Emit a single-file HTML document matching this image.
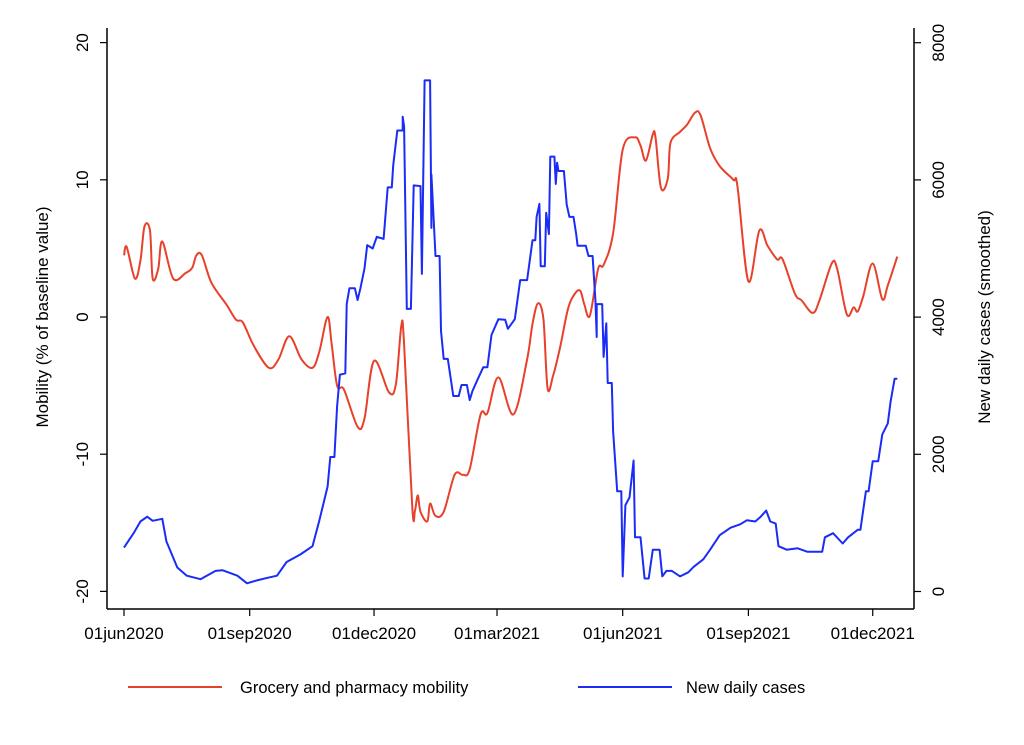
<!DOCTYPE html>
<html><head><meta charset="utf-8"><style>
body{margin:0;background:#fff;}
svg{display:block;font-family:"Liberation Sans",Arial,sans-serif;}
</style></head><body>
<svg id="chart" width="1024" height="745" viewBox="0 0 1024 745">
<g id="axes"></g>
<g id="series"></g>
<g id="legend">
 <line x1="128" y1="687" x2="222" y2="687" stroke="#e8412b" stroke-width="2"/>
 <text x="240" y="693" font-size="16.5">Grocery and pharmacy mobility</text>
 <line x1="578" y1="687" x2="672" y2="687" stroke="#1a2cf5" stroke-width="2"/>
 <text x="686" y="693" font-size="16.5">New daily cases</text>
</g>
<text transform="translate(48,317) rotate(-90)" text-anchor="middle" font-size="17">Mobility (% of baseline value)</text>
<text transform="translate(990,317) rotate(-90)" text-anchor="middle" font-size="17">New daily cases (smoothed)</text>
</svg>
<script>
const xTickLabels=["01jun2020","01sep2020","01dec2020","01mar2021","01jun2021","01sep2021","01dec2021"];
const xTickDays=[0,92,183,273,365,457,548];
const leftTicks=[-20,-10,0,10,20];
const rightTicks=[0,2000,4000,6000,8000];
const mobDays=[0,2,8,12,15,19,21,25,28,36,45,50,53,57,64,75,82,87,95,106,113,121,130,138,143,149,152,156,161,171,176,183,194,199,203,205,211,213,215,217,222,224,228,234,242,248,253,261,266,274,285,295,299,303,307,310,314,319,325,330,334,337,341,347,351,358,365,374,378,382,387,389,393,398,400,407,412,418,422,429,436,446,449,457,465,471,478,482,491,496,504,509,518,522,529,534,537,541,548,555,559,566];
const mobVals=[4.5,5.1,2.8,4.1,6.6,6.3,2.8,3.5,5.5,2.8,3.2,3.6,4.5,4.5,2.5,0.9,-0.2,-0.4,-2.1,-3.7,-3.1,-1.4,-3.1,-3.7,-2.5,0,-2.0,-5.0,-5.3,-8.0,-7.4,-3.2,-5.5,-4.9,-0.6,-2.0,-13.9,-14.1,-13.0,-14.2,-14.9,-13.6,-14.5,-14.2,-11.5,-11.5,-11.1,-7.1,-7.0,-4.4,-7.1,-3.1,-0.5,1.0,-0.2,-5.2,-4.3,-2.3,0.6,1.7,1.9,0.9,0.1,3.5,3.8,6.1,12.2,13.1,12.5,11.4,13.3,13.1,9.4,10.1,12.7,13.5,14.0,14.9,14.7,12.3,11.0,10.0,9.5,2.6,6.3,5.2,4.2,4.2,1.7,1.2,0.3,1.2,3.9,3.5,0.2,0.7,0.4,1.5,3.9,1.3,2.3,4.4];
const caseDays=[0,7,12,17,21,28,31,39,46,56,67,72,83,90,97,105,112,119,129,138,143,149,151,154,156,158,162,163,165,169,171,173,176,178,182,185,190,193,196,197,200,204,204,205,207,210,212,217,218,220,224,225,225,228,231,232,234,237,241,245,247,251,253,255,259,263,266,269,274,279,281,286,290,295,299,301,302,304,305,308,309,311,312,315,316,317,318,322,324,326,329,331,332,338,340,343,345,346,346,350,351,353,354,357,358,361,364,365,367,370,373,374,378,381,384,387,392,394,397,401,407,413,417,424,429,436,444,451,456,462,466,470,473,477,479,485,493,500,507,511,513,519,526,530,537,539,543,545,548,552,555,559,561,564,566];
const caseVals=[640,850,1020,1090,1030,1060,730,350,230,180,300,310,230,120,160,200,230,430,540,660,1040,1530,1960,1960,2700,3160,3180,4190,4420,4420,4250,4420,4710,5050,5000,5170,5140,5890,5890,6210,6720,6720,6920,6780,4120,4120,5920,5910,4630,7450,7450,5300,6080,4890,4890,3800,3390,3390,2850,2850,3010,3010,2790,2920,3100,3270,3270,3740,3970,3960,3830,3970,4540,4540,5120,5120,5460,5650,4740,4740,5520,5210,6340,6340,5940,6250,6130,6130,5640,5460,5460,5210,5040,5040,4890,4890,4250,3710,4190,4190,3420,3910,3040,3040,2340,1460,1460,220,1260,1370,1910,790,790,190,190,610,610,220,300,300,220,280,360,470,610,820,930,980,1040,1020,1090,1180,1020,990,660,610,630,580,580,580,790,850,700,790,900,900,1460,1460,1900,1900,2290,2450,2760,3100,3100];

const NS="http://www.w3.org/2000/svg";
const X=d=>124+d*1.3663;
const YL=v=>317-v*13.72;
const YR=v=>591.5-v*0.0686;
function mk(tag,attrs,parent){const e=document.createElementNS(NS,tag);for(const k in attrs)e.setAttribute(k,attrs[k]);parent.appendChild(e);return e;}
const ax=document.getElementById('axes');
let e;
e=mk('line',{x1:107,y1:28,x2:107,y2:609,stroke:'#000','stroke-width':1.5},ax);


e=mk('line',{x1:914,y1:28,x2:914,y2:609,stroke:'#000','stroke-width':1.5},ax);


e=mk('line',{x1:107,y1:609,x2:914,y2:609,stroke:'#000','stroke-width':1.5},ax);


leftTicks.forEach(v=>{
 const y=YL(v);
 mk('line',{x1:100,y1:y,x2:107,y2:y,stroke:'#000','stroke-width':1.2},ax);
 const t=mk('text',{transform:`translate(88,${y}) rotate(-90)`,'text-anchor':'middle','font-size':17},ax);
 t.textContent=v;
 
 
});
rightTicks.forEach(v=>{
 const y=YR(v);
 mk('line',{x1:914,y1:y,x2:921,y2:y,stroke:'#000','stroke-width':1.2},ax);
 const t=mk('text',{transform:`translate(944,${y}) rotate(-90)`,'text-anchor':'middle','font-size':17},ax);
 t.textContent=v;
 
 
});
xTickDays.forEach((d,i)=>{
 const x=X(d);
 mk('line',{x1:x,y1:609,x2:x,y2:616,stroke:'#000','stroke-width':1.2},ax);
 const t=mk('text',{x:x,y:639,'text-anchor':'middle','font-size':17},ax);
 t.textContent=xTickLabels[i];
 
 
});
const sg=document.getElementById('series');
// smooth path (Catmull-Rom) for mobility
const pts=mobDays.map((d,i)=>[X(d),YL(mobVals[i])]);
let dstr='M'+pts[0][0].toFixed(1)+','+pts[0][1].toFixed(1);
for(let i=0;i<pts.length-1;i++){
 const p0=pts[Math.max(0,i-1)],p1=pts[i],p2=pts[i+1],p3=pts[Math.min(pts.length-1,i+2)];
 const c1=[p1[0]+(p2[0]-p0[0])/6,p1[1]+(p2[1]-p0[1])/6];
 const c2=[p2[0]-(p3[0]-p1[0])/6,p2[1]-(p3[1]-p1[1])/6];
 dstr+=` C${c1[0].toFixed(1)},${c1[1].toFixed(1)} ${c2[0].toFixed(1)},${c2[1].toFixed(1)} ${p2[0].toFixed(1)},${p2[1].toFixed(1)}`;
}
e=mk('path',{d:dstr,fill:'none',stroke:'#e8412b','stroke-width':2,'stroke-linejoin':'round'},sg);


const cp=caseDays.map((d,i)=>X(d).toFixed(1)+','+YR(caseVals[i]).toFixed(1)).join(' ');
e=mk('polyline',{points:cp,fill:'none',stroke:'#1a2cf5','stroke-width':2,'stroke-linejoin':'round'},sg);


</script>
</body></html>
